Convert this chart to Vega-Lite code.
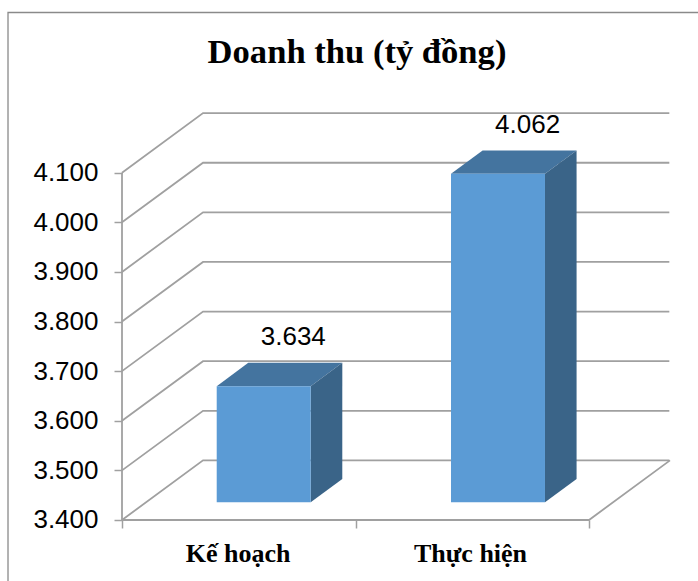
{"$schema":"https://vega.github.io/schema/vega-lite/v6.json","width":698,"height":581,"autosize":{"type":"none"},"padding":0,"background":"white","title":{"text":"Doanh thu (tỷ đồng)","font":"Liberation Serif","fontSize":34.6,"fontWeight":"bold","color":"black","anchor":"middle","baseline":"alphabetic","offset":-98,"dx":8},"datasets":{"bars":[{"category":"Kế hoạch","value":3634},{"category":"Thực hiện","value":4062}],"ticks":[{"tick":3400},{"tick":3500},{"tick":3600},{"tick":3700},{"tick":3800},{"tick":3900},{"tick":4000},{"tick":4100}],"frame":[{"fx":2.4668,"fy":4422.9},{"fx":-0.4882,"fy":4422.9},{"fx":-0.4882,"fy":3277}]},"config":{"view":{"stroke":null}},"layer":[{"data":{"name":"frame"},"mark":{"type":"line","color":"#8a8a8a","strokeWidth":1.3,"interpolate":"linear"},"encoding":{"order":{"field":"fy","sort":"descending"},"x":{"field":"fx","type":"quantitative","scale":{"domain":[-0.5225,2.4668],"nice":false,"zero":false},"axis":{"values":[0,1,2],"labels":false,"title":null,"domain":false,"grid":false,"ticks":true,"tickSize":8,"tickColor":"#a0a0a0","tickWidth":1.5,"offset":-61}},"y":{"field":"fy","type":"quantitative","scale":{"domain":[3277,4448.1],"nice":false,"zero":false},"axis":{"values":[3400,3500,3600,3700,3800,3900,4000,4100],"title":null,"domain":false,"grid":false,"tickSize":8,"tickColor":"#a0a0a0","tickWidth":1.5,"offset":-122,"labelFont":"Liberation Sans","labelFontSize":26,"labelColor":"black","labelPadding":16,"labelExpr":"replace(format(datum.value,','),',','.')"}}}},{"data":{"name":"ticks"},"transform":[{"calculate":"[0,0.347,2.344]","as":"xs"},{"calculate":"[0,120.1,120.1]","as":"ys"},{"flatten":["xs","ys"]},{"calculate":"datum.tick+datum.ys","as":"gy"}],"mark":{"type":"line","color":"#a0a0a0","strokeWidth":1.8},"encoding":{"detail":{"field":"tick"},"x":{"field":"xs","type":"quantitative","scale":{"domain":[-0.5225,2.4668],"nice":false,"zero":false}},"y":{"field":"gy","type":"quantitative","scale":{"domain":[3277,4448.1],"nice":false,"zero":false}}}},{"data":{"name":"ticks"},"transform":[{"filter":"datum.tick==3400"},{"calculate":"[0,2,2.347]","as":"xs"},{"calculate":"[0,0,120.1]","as":"ys"},{"flatten":["xs","ys"]},{"calculate":"datum.tick+datum.ys","as":"gy"}],"mark":{"type":"line","color":"#a0a0a0","strokeWidth":1.8},"encoding":{"x":{"field":"xs","type":"quantitative","scale":{"domain":[-0.5225,2.4668],"nice":false,"zero":false}},"y":{"field":"gy","type":"quantitative","scale":{"domain":[3277,4448.1],"nice":false,"zero":false}}}},{"data":{"name":"ticks"},"mark":{"type":"line","color":"#a0a0a0","strokeWidth":1.8},"encoding":{"x":{"datum":0,"type":"quantitative","scale":{"domain":[-0.5225,2.4668],"nice":false,"zero":false}},"y":{"field":"tick","type":"quantitative","scale":{"domain":[3277,4448.1],"nice":false,"zero":false}}}},{"data":{"name":"bars"},"transform":[{"calculate":"(datum.category=='Kế hoạch'?0:1.0034)+0.4056","as":"a"},{"calculate":"datum.a+0.4025","as":"b"},{"calculate":"datum.value+35.7","as":"top"},{"calculate":"[datum.a,datum.a+0.1353,datum.b,datum.b+0.1353]","as":"xs"},{"calculate":"[datum.top,datum.top,datum.top,datum.top+47]","as":"lo"},{"calculate":"[datum.top,datum.top+47,datum.top+47,datum.top+47]","as":"hi"},{"flatten":["xs","lo","hi"]}],"mark":{"type":"area","color":"#44749f","orient":"vertical"},"encoding":{"detail":{"field":"category"},"x":{"field":"xs","type":"quantitative","scale":{"domain":[-0.5225,2.4668],"nice":false,"zero":false}},"y":{"field":"lo","type":"quantitative","stack":null,"scale":{"domain":[3277,4448.1],"nice":false,"zero":false}},"y2":{"field":"hi"}}},{"data":{"name":"bars"},"transform":[{"calculate":"(datum.category=='Kế hoạch'?0:1.0034)+0.4056+0.4025","as":"b"},{"calculate":"datum.value+35.7","as":"top"},{"calculate":"[datum.b,datum.b+0.1353]","as":"xs"},{"calculate":"[3435.7,3482.7]","as":"lo"},{"calculate":"[datum.top,datum.top+47]","as":"hi"},{"flatten":["xs","lo","hi"]}],"mark":{"type":"area","color":"#3a6488","orient":"vertical"},"encoding":{"detail":{"field":"category"},"x":{"field":"xs","type":"quantitative","scale":{"domain":[-0.5225,2.4668],"nice":false,"zero":false}},"y":{"field":"lo","type":"quantitative","stack":null,"scale":{"domain":[3277,4448.1],"nice":false,"zero":false}},"y2":{"field":"hi"}}},{"data":{"name":"bars"},"transform":[{"calculate":"(datum.category=='Kế hoạch'?0:1.0034)+0.4056","as":"a"},{"calculate":"datum.a+0.4025","as":"b"},{"calculate":"datum.value+35.7","as":"top"},{"calculate":"3435.7","as":"base"}],"mark":{"type":"rect","color":"#5b9bd5"},"encoding":{"x":{"field":"a","type":"quantitative","scale":{"domain":[-0.5225,2.4668],"nice":false,"zero":false}},"x2":{"field":"b"},"y":{"field":"base","type":"quantitative","scale":{"domain":[3277,4448.1],"nice":false,"zero":false}},"y2":{"field":"top"}}},{"data":{"name":"bars"},"transform":[{"calculate":"(datum.category=='Kế hoạch'?0:1.0034)+0.7336","as":"lx"},{"calculate":"datum.value+118.7","as":"ly"},{"calculate":"replace(format(datum.value,','),',','.')","as":"label"}],"mark":{"type":"text","font":"Liberation Sans","fontSize":26,"color":"black","align":"center","baseline":"alphabetic"},"encoding":{"text":{"field":"label"},"x":{"field":"lx","type":"quantitative","scale":{"domain":[-0.5225,2.4668],"nice":false,"zero":false}},"y":{"field":"ly","type":"quantitative","scale":{"domain":[3277,4448.1],"nice":false,"zero":false}}}},{"data":{"name":"bars"},"transform":[{"calculate":"(datum.category=='Kế hoạch'?0.497:1.4925)","as":"lx"},{"calculate":"3316","as":"ly"}],"mark":{"type":"text","font":"Liberation Serif","fontWeight":"bold","fontSize":26,"color":"black","align":"center","baseline":"alphabetic"},"encoding":{"text":{"field":"category"},"x":{"field":"lx","type":"quantitative","scale":{"domain":[-0.5225,2.4668],"nice":false,"zero":false}},"y":{"field":"ly","type":"quantitative","scale":{"domain":[3277,4448.1],"nice":false,"zero":false}}}}]}
